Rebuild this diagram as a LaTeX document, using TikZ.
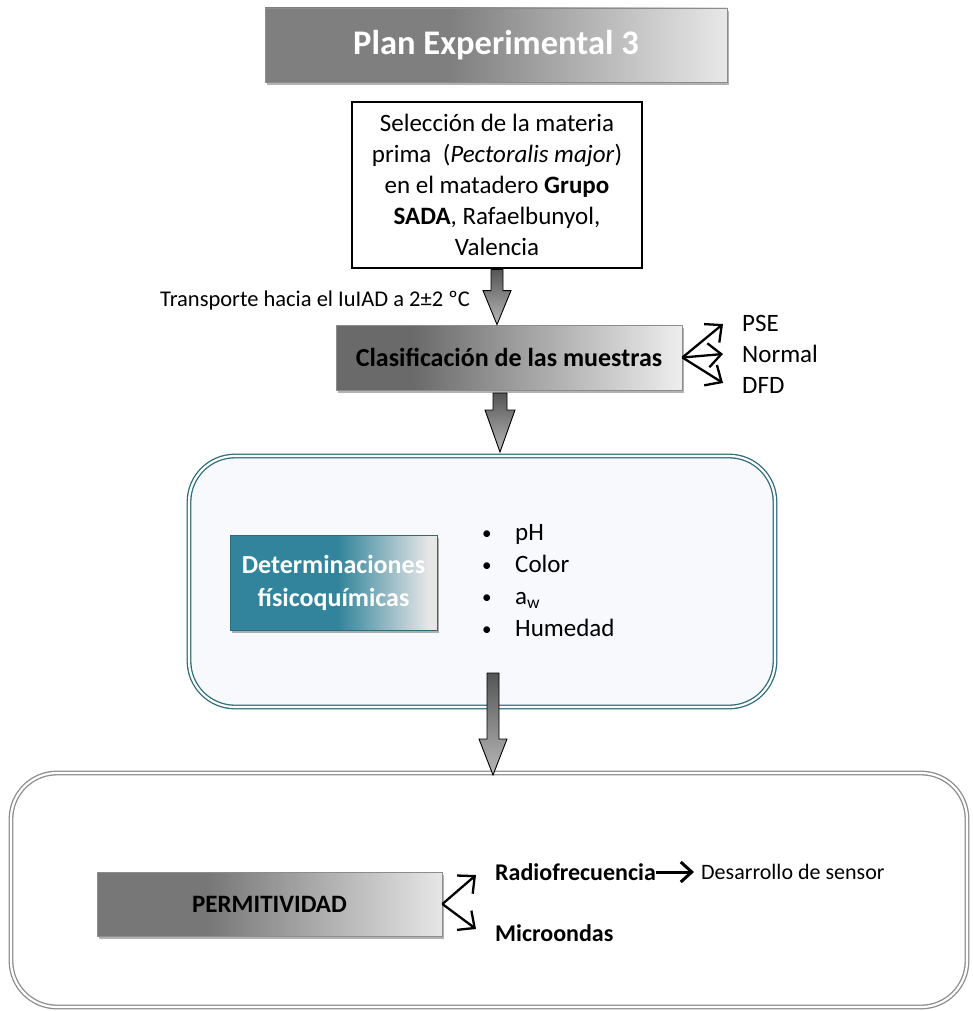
\documentclass[tikz,border=0pt]{standalone}
\usepackage{fontspec}
\setmainfont{Carlito}
\usetikzlibrary{arrows.meta,shadows,calc}

% colours
\definecolor{titleL}{HTML}{7F7F7F}
\definecolor{titleR}{HTML}{E8E8E8}
\definecolor{clasL}{HTML}{6A6A6A}
\definecolor{clasR}{HTML}{EEEEEE}
\definecolor{tealL}{HTML}{31849B}
\definecolor{tealR}{HTML}{E6E6E6}
\definecolor{permL}{HTML}{777777}
\definecolor{permR}{HTML}{E6E6E6}
\definecolor{tealline}{HTML}{2E6B7A}
\definecolor{panelfill}{HTML}{F7F9FD}
\definecolor{grayline}{HTML}{8C8C8C}
\definecolor{arrowtop}{HTML}{555555}
\definecolor{arrowbot}{HTML}{B8B8B8}

% horizontal fades (node box spans 25bp..75bp)
\pgfdeclarehorizontalshading{titlefade}{100bp}{color(0bp)=(titleL); color(25bp)=(titleL); color(45bp)=(titleL); color(75bp)=(titleR); color(100bp)=(titleR)}
\pgfdeclarehorizontalshading{clasfade}{100bp}{color(0bp)=(clasL); color(25bp)=(clasL); color(36bp)=(clasL); color(75bp)=(clasR); color(100bp)=(clasR)}
\pgfdeclarehorizontalshading{tealfade}{100bp}{color(0bp)=(tealL); color(25bp)=(tealL); color(51bp)=(tealL); color(73bp)=(tealR); color(100bp)=(tealR)}
\pgfdeclarehorizontalshading{permfade}{100bp}{color(0bp)=(permL); color(25bp)=(permL); color(41bp)=(permL); color(75bp)=(permR); color(100bp)=(permR)}

% hollow block arrow: #1 top point, #2 tip point, #3 shaft half width, #4 head half width, #5 head length
\newcommand\blockarrow[5]{%
  \path[blockarrowstyle] let \p1=#1, \p2=#2 in
    (\x2-#3pt,\y1) -- (\x2+#3pt,\y1) -- (\x2+#3pt,\y2+#5pt) -- (\x2+#4pt,\y2+#5pt)
    -- (\x2,\y2) -- (\x2-#4pt,\y2+#5pt) -- (\x2-#3pt,\y2+#5pt) -- cycle;}

% small bullet for the list
\newcommand\listdot{\makebox[33pt][l]{\raisebox{1pt}{\fontsize{19}{19}\selectfont •}}}

\begin{document}
\begin{tikzpicture}[x=1pt,y=-1pt,
  softshadow/.style={drop shadow={shadow xshift=1.5pt,shadow yshift=-3pt,fill=black,opacity=0.3}},
  titlebox/.style={shading=titlefade,draw=grayline,line width=0.8pt,softshadow,
    minimum width=462pt,minimum height=74pt,text=white,font=\fontsize{34.5}{40}\selectfont\bfseries},
  selbox/.style={draw=black,fill=white,line width=2.6pt,minimum width=290pt,minimum height=166pt,
    align=center,font=\fontsize{25}{31}\selectfont},
  clasbox/.style={shading=clasfade,draw=grayline,line width=0.8pt,softshadow,
    minimum width=346pt,minimum height=65pt,font=\fontsize{26}{31}\selectfont\bfseries},
  tealbox/.style={shading=tealfade,draw=tealline,line width=0.8pt,softshadow,
    minimum width=207pt,minimum height=95pt,align=center,text=white,
    font=\fontsize{26}{33}\selectfont\bfseries},
  permbox/.style={shading=permfade,draw=grayline,line width=0.8pt,softshadow,
    minimum width=345pt,minimum height=64pt,font=\fontsize{25}{30}\selectfont\bfseries},
  panel/.style={rounded corners=46pt,line width=1.3pt,double distance=2.2pt},
  label/.style={inner sep=0pt,anchor=west},
  thinarrow/.style={line width=2.3pt,-{Straight Barb[length=13pt,width=24pt,line width=2.3pt]}},
  blockarrowstyle/.style={draw=black,line width=0.9pt,top color=arrowtop,bottom color=arrowbot},
]
\useasboundingbox (0,0) rectangle (973,1011);

% panels
\node[panel,draw=tealline,double=white,fill=panelfill,minimum width=586pt,minimum height=251pt] (panelA) at (482,581.5) {};
\node[panel,draw=grayline,double=white,fill=white,minimum width=956pt,minimum height=234pt] (panelB) at (489,890) {};

% boxes
\node[titlebox] (title) at (496,45) {Plan Experimental 3};
\node[selbox] (sel) at (497,185) {Selección de la materia\\prima~ (\textit{Pectoralis major})\\en el matadero \textbf{Grupo}\\\textbf{SADA}, Rafaelbunyol,\\Valencia};
\node[clasbox] (clas) at (509,357.5) {Clasificación de las muestras};
\node[tealbox] (det) at (333.5,582.5) {Determinaciones\\físicoquímicas};
\node[permbox] (perm) at (269.5,904) {PERMITIVIDAD};

% texts
\node[label,font=\fontsize{22.5}{26}\selectfont] (transp) at (160,300) {Transporte hacia el IuIAD a 2±2 ºC};
\node[label,font=\fontsize{25}{30}\selectfont] (pse) at (742,323) {PSE};
\node[label,font=\fontsize{25}{30}\selectfont] (normal) at (742,354) {Normal};
\node[label,font=\fontsize{25}{30}\selectfont] (dfd) at (742,385) {DFD};
\node[label,anchor=west,align=left,font=\fontsize{25}{32}\selectfont] (det list) at (482,581)
  {\listdot pH\\\listdot Color\\\listdot a\textsubscript{w}\\\listdot Humedad};
\node[label,font=\fontsize{24}{28}\selectfont\bfseries] (radio) at (495,872) {Radiofrecuencia};
\node[label,font=\fontsize{22}{26}\selectfont] (sensor) at (701,872) {Desarrollo de sensor};
\node[label,font=\fontsize{24}{28}\selectfont\bfseries] (micro) at (495,933) {Microondas};

% end points of the block arrows
\coordinate (a2top) at (500,393);
\coordinate (a2tip) at (500,452);
\coordinate (a3top) at (493,673);
\coordinate (a3tip) at (493,775);

% block arrows
\blockarrow{(sel.south)}{(sel.south |- clas.north)}{6}{14}{34}
\blockarrow{(a2top)}{(a2tip)}{7}{15}{42}
\blockarrow{(a3top)}{(a3tip)}{6}{14}{36}

% branching arrows
\draw[thinarrow] (clas.east) -- ([xshift=-19pt,yshift=-1pt]pse.west);
\draw[thinarrow] (clas.east) -- ([xshift=-19pt]normal.west);
\draw[thinarrow] (clas.east) -- ([xshift=-19pt,yshift=2pt]dfd.west);
\draw[thinarrow] (perm.east) -- ([xshift=-19pt,yshift=-3pt]radio.west);
\draw[thinarrow] (perm.east) -- ([xshift=-19pt,yshift=4pt]micro.west);
\draw[line width=3pt,-{Straight Barb[length=11pt,width=20pt,line width=3pt]}] (radio.east) -- ([xshift=-7pt]sensor.west);
\end{tikzpicture}
\end{document}
